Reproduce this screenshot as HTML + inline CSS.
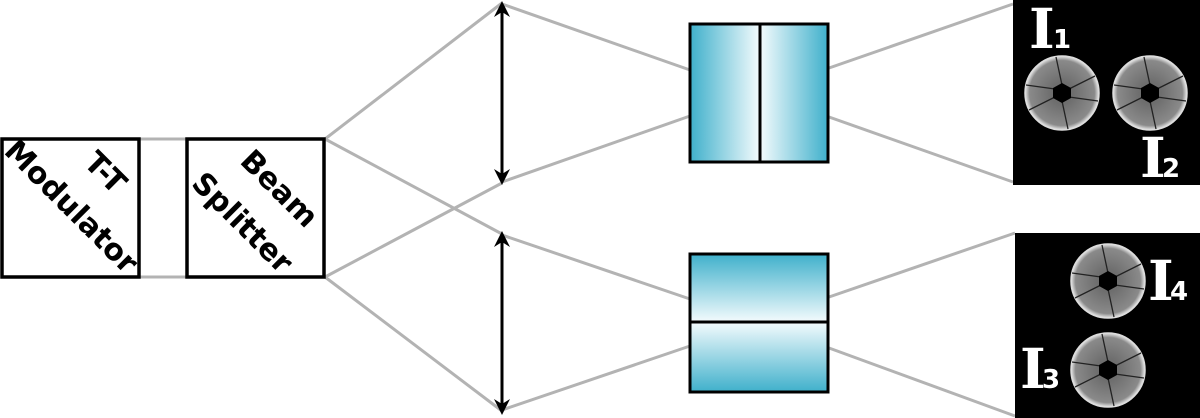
<!DOCTYPE html>
<html><head><style>html,body{margin:0;padding:0;background:#fff;width:1200px;height:418px;overflow:hidden}</style></head>
<body>
<svg width="1200" height="418" viewBox="0 0 1200 418" xmlns="http://www.w3.org/2000/svg" font-family="DejaVu Sans, Liberation Sans, sans-serif">
<defs>
<linearGradient id="gl" x1="0" y1="0" x2="1" y2="0"><stop offset="0" stop-color="#3fb0cb"/><stop offset="1" stop-color="#f4fbfd"/></linearGradient>
<linearGradient id="gr" x1="0" y1="0" x2="1" y2="0"><stop offset="0" stop-color="#f4fbfd"/><stop offset="1" stop-color="#3fb0cb"/></linearGradient>
<linearGradient id="gt" x1="0" y1="0" x2="0" y2="1"><stop offset="0" stop-color="#3fb0cb"/><stop offset="1" stop-color="#f4fbfd"/></linearGradient>
<linearGradient id="gb" x1="0" y1="0" x2="0" y2="1"><stop offset="0" stop-color="#f4fbfd"/><stop offset="1" stop-color="#3fb0cb"/></linearGradient>
<radialGradient id="pg"><stop offset="0.3" stop-color="#6e6e6e"/><stop offset="0.88" stop-color="#8a8a8a"/><stop offset="1" stop-color="#e8e8e8"/></radialGradient>
<g id="pupil">
<circle r="37" fill="url(#pg)" stroke="#ddd" stroke-width="1.5"/>
<g stroke="#222" stroke-width="1.3">
<line x1="0" y1="-8" x2="-6" y2="-36"/><line x1="7" y1="-4" x2="33" y2="-17"/><line x1="7" y1="4" x2="36" y2="8"/>
<line x1="0" y1="8" x2="6" y2="36"/><line x1="-7" y1="4" x2="-33" y2="17"/><line x1="-7" y1="-4" x2="-36" y2="-8"/>
</g>
<polygon points="0,-10 9,-5 9,5 0,10 -9,5 -9,-5" fill="#000"/>
</g>
</defs>
<g stroke="#b3b3b3" stroke-width="3" fill="none">
<line x1="140" y1="139" x2="186" y2="139"/><line x1="140" y1="277" x2="186" y2="277"/>
<line x1="325" y1="139" x2="502" y2="3"/><line x1="325" y1="139" x2="502" y2="234"/>
<line x1="325" y1="277" x2="502" y2="183"/><line x1="325" y1="277" x2="502" y2="411"/>
<line x1="502" y1="4" x2="690" y2="70"/><line x1="502" y1="182" x2="690" y2="116"/>
<line x1="502" y1="235" x2="690" y2="299"/><line x1="502" y1="410" x2="690" y2="346"/>
<line x1="829" y1="68" x2="1013" y2="4"/><line x1="829" y1="117" x2="1013" y2="182"/>
<line x1="829" y1="297" x2="1015" y2="233"/><line x1="829" y1="348" x2="1015" y2="416"/>
</g>
<rect x="2" y="139" width="137" height="138" fill="#fff" stroke="#000" stroke-width="3.5"/>
<rect x="187" y="139" width="137" height="138" fill="#fff" stroke="#000" stroke-width="3.5"/>
<g font-weight="bold" font-size="30" fill="#000" text-anchor="middle">
<text transform="translate(106,172) rotate(45)" dy="11">T-T</text>
<text transform="translate(72,206) rotate(45)" dy="11">Modulator</text>
<text transform="translate(280,188) rotate(45)" dy="11">Beam</text>
<text transform="translate(243,222) rotate(45)" dy="11">Splitter</text>
</g>
<g stroke="#000" stroke-width="3" fill="#000">
<line x1="502" y1="10" x2="502" y2="176"/>
<line x1="502" y1="240" x2="502" y2="404"/>
</g>
<g fill="#000">
<polygon points="502,1 494,17 502,12 510,17"/><polygon points="502,185 494,169 502,174 510,169"/>
<polygon points="502,231 494,247 502,242 510,247"/><polygon points="502,415 494,399 502,404 510,399"/>
</g>
<rect x="690" y="24" width="70" height="138" fill="url(#gl)"/>
<rect x="760" y="24" width="68" height="138" fill="url(#gr)"/>
<rect x="690" y="24" width="138" height="138" fill="none" stroke="#000" stroke-width="3"/>
<line x1="760" y1="24" x2="760" y2="162" stroke="#000" stroke-width="3"/>
<rect x="690" y="254" width="138" height="68" fill="url(#gt)"/>
<rect x="690" y="322" width="138" height="70" fill="url(#gb)"/>
<rect x="690" y="254" width="138" height="138" fill="none" stroke="#000" stroke-width="3"/>
<line x1="690" y1="322" x2="828" y2="322" stroke="#000" stroke-width="3"/>
<rect x="1013" y="0" width="187" height="185" fill="#000"/>
<rect x="1015" y="233" width="185" height="185" fill="#000"/>
<use href="#pupil" x="1062" y="93"/><use href="#pupil" x="1150" y="93"/>
<use href="#pupil" x="1108" y="281"/><use href="#pupil" x="1108" y="370"/>
<g fill="#fff" font-weight="bold">
<g font-family="DejaVu Serif, Liberation Serif, serif" font-size="55">
<text x="1029" y="48">I</text><text x="1140" y="177">I</text>
<text x="1020" y="388">I</text><text x="1148" y="300">I</text>
</g>
<g font-size="26">
<text x="1053" y="48">1</text><text x="1162" y="177">2</text>
<text x="1042" y="388">3</text><text x="1170" y="300">4</text>
</g>
</g>
</svg>
</body></html>
